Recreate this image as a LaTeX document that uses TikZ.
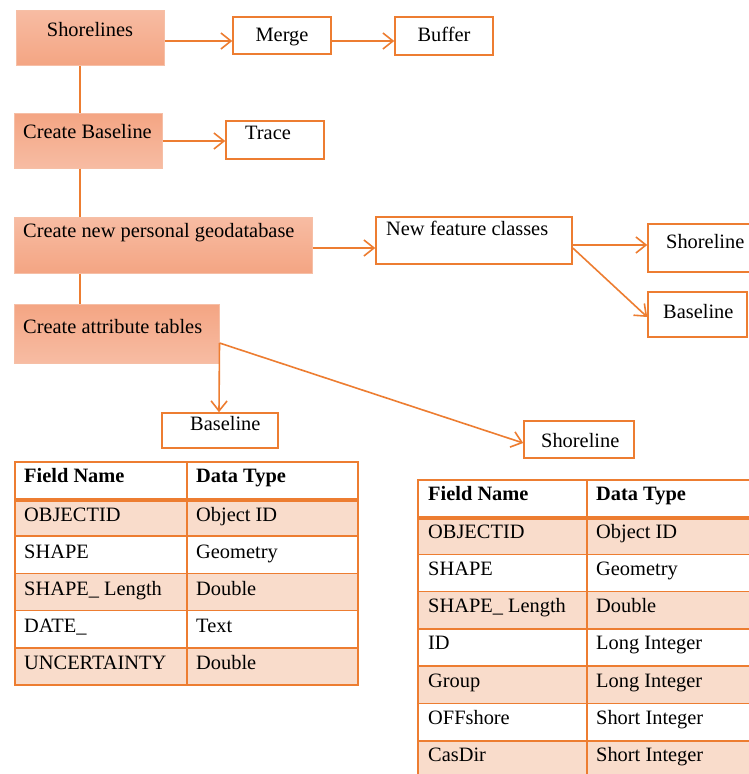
\documentclass[tikz,border=0pt]{standalone}
\usepackage{fontspec}
\setmainfont{Liberation Serif}
\usetikzlibrary{arrows.meta}
\definecolor{org}{HTML}{ED7D31}
\definecolor{band}{HTML}{F9DCCB}
\definecolor{boxlt}{HTML}{F7BCA3}
\definecolor{boxdk}{HTML}{F4A583}
\definecolor{boxedge}{HTML}{F6BFA6}
\begin{document}
\begin{tikzpicture}[x=1pt,y=-1pt,
 every node/.style={font=\fontsize{20.4}{24}\selectfont},
 fbox/.style={draw=boxedge, line width=1pt, inner sep=0pt},
 lighttop/.style={fbox, top color=boxlt, bottom color=boxdk},
 darktop/.style={fbox, top color=boxdk, bottom color=boxlt},
 wbox/.style={draw=org, line width=1.6pt, fill=white, inner sep=0pt},
 txt/.style={inner sep=0pt, anchor=base west},
 ctxt/.style={inner sep=0pt, anchor=base},
 conn/.style={draw=org, line width=1.6pt},
 arr/.style={conn, -{Straight Barb[length=10pt,width=16pt]}},
 tline/.style={draw=org, line width=1.6pt},
 hdr/.style={txt, font=\fontsize{20.4}{24}\selectfont\bfseries}]
\useasboundingbox (0,0) rectangle (749,774);
\clip (0,0) rectangle (749,774);
\fill[white] (0,0) rectangle (749,774);

% ---------- flowchart boxes ----------
\node[lighttop, minimum width=148pt, minimum height=55pt] (sh) at (90,37.5) {};
\node[wbox, minimum width=98pt, minimum height=37pt] (merge) at (282,35.5) {};
\node[wbox, minimum width=98pt, minimum height=38pt] (buffer) at (444,36) {};
\node[darktop, minimum width=148pt, minimum height=55pt] (cb) at (88,140.5) {};
\node[wbox, minimum width=98pt, minimum height=38pt] (trace) at (275,140) {};
\node[lighttop, minimum width=298pt, minimum height=56pt] (gdb) at (163,245) {};
\node[wbox, minimum width=196pt, minimum height=47pt] (nfc) at (474,240.5) {};
\node[wbox, minimum width=102pt, minimum height=48pt] (shr) at (699,248) {};
\node[wbox, minimum width=99pt, minimum height=45pt] (bsr) at (697.5,314.5) {};
\node[darktop, minimum width=205pt, minimum height=59pt] (cat) at (116.5,333.5) {};
\node[wbox, minimum width=116pt, minimum height=35pt] (bsb) at (220,430.5) {};
\node[wbox, minimum width=110pt, minimum height=37pt] (shb) at (579,439.5) {};

% ---------- texts ----------
\node[ctxt] (tsh) at (90,36) {Shorelines};
\node[ctxt] (tmerge) at (282,41) {Merge};
\node[ctxt] (tbuffer) at (444,41) {Buffer};
\node[txt] (tcb) at (23,138) {Create Baseline};
\node[txt] (ttrace) at (245,139) {Trace};
\node[txt] (tgdb) at (23,237) {Create new personal geodatabase};
\node[txt] (tnfc) at (386,235) {New feature classes};
\node[txt] (tshr) at (666,248) {Shoreline};
\node[txt] (tbsr) at (663,318) {Baseline};
\node[txt] (tcat) at (23,333) {Create attribute tables};
\node[txt] (tbsb) at (190,430) {Baseline};
\node[txt] (tshb) at (541,447) {Shoreline};

% ---------- connectors ----------
\draw[arr] (sh.east |- 0,41) -- (merge.west |- 0,41);
\draw[arr] (merge.east |- 0,41) -- (buffer.west |- 0,41);
\draw[conn] (sh.south -| 80,0) -- (cb.north -| 80,0);
\draw[arr] (cb.east |- 0,141) -- (trace.west |- 0,141);
\draw[conn] (cb.south -| 80,0) -- (gdb.north -| 80,0);
\draw[arr] (gdb.east |- 0,248) -- (nfc.west |- 0,248);
\draw[arr] (nfc.east |- 0,245) -- (shr.west |- 0,245);
\draw[arr] (nfc.east |- 0,248) -- (bsr.west |- 0,317);
\draw[conn] (gdb.south -| 80,0) -- (cat.north -| 80,0);
\draw[arr] (cat.east |- 0,343) -- (bsb.north -| 219,0);
\draw[arr] (cat.east |- 0,343) -- (shb.west |- 0,443);

% ---------- table 1 ----------
\foreach \i in {1,3,5}
  \fill[band] (15,{499+37.2*(\i-1)}) rectangle (358,{499+37.2*\i});
\foreach \i in {1,2,3,4}
  \draw[tline] (15,{499+37.2*\i}) -- (358,{499+37.2*\i});
\draw[tline] (15,462) rectangle (358,685);
\draw[tline] (187,462) -- (187,685);
\draw[draw=org, line width=3.5pt] (15,500) -- (358,500);
\node[hdr] (a0) at (24,482) {Field Name};
\node[hdr] (b0) at (196,482) {Data Type};
\foreach \i/\a/\b in {1/OBJECTID/Object ID, 2/SHAPE/Geometry, 3/SHAPE\_ Length/Double, 4/DATE\_/Text, 5/UNCERTAINTY/Double}{
  \node[txt] (a\i) at (24,{499+37.2*(\i-1)+22}) {\a};
  \node[txt] (b\i) at (196,{499+37.2*(\i-1)+22}) {\b};
}

% ---------- table 2 ----------
\foreach \i in {1,3,5,7}
  \fill[band] (418,{517+37.3*(\i-1)}) rectangle (760,{517+37.3*\i});
\foreach \i in {1,...,6}
  \draw[tline] (418,{517+37.3*\i}) -- (760,{517+37.3*\i});
\draw[tline] (760,480) -- (418,480) -- (418,780);
\draw[tline] (587,480) -- (587,780);
\draw[draw=org, line width=3.5pt] (418,518) -- (760,518);
\node[hdr] (c0) at (428,500) {Field Name};
\node[hdr] (d0) at (596,500) {Data Type};
\foreach \i/\a/\b in {1/OBJECTID/Object ID, 2/SHAPE/Geometry, 3/SHAPE\_ Length/Double, 4/ID/Long Integer, 5/Group/Long Integer, 6/OFFshore/Short Integer, 7/CasDir/Short Integer}{
  \node[txt] (c\i) at (428,{517+37.3*(\i-1)+21}) {\a};
  \node[txt] (d\i) at (596,{517+37.3*(\i-1)+21}) {\b};
}
\end{tikzpicture}
\end{document}
